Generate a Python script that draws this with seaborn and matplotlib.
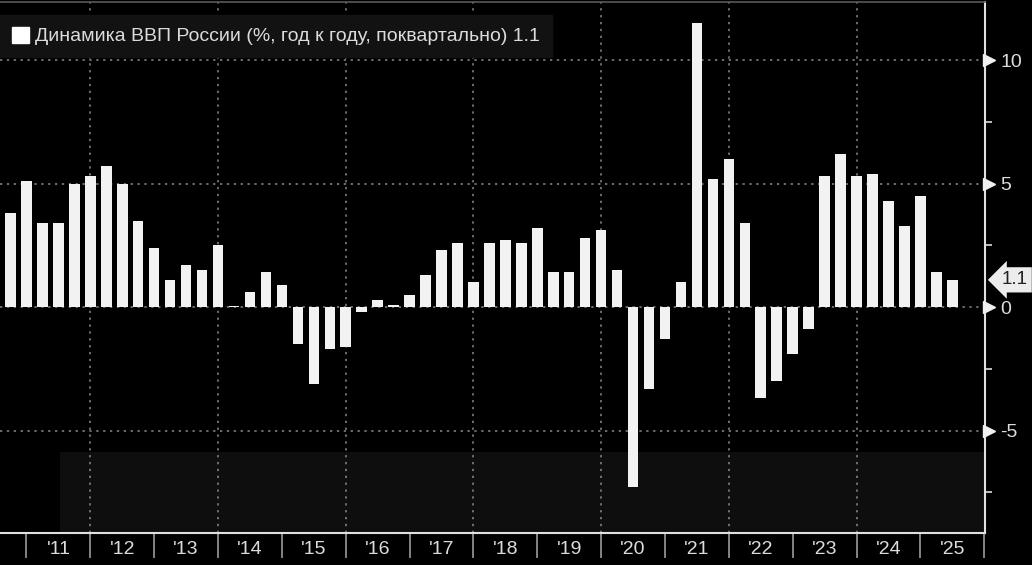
import matplotlib
matplotlib.use("Agg")
import matplotlib.pyplot as plt
import matplotlib.transforms as mtransforms
from matplotlib.patches import Patch
import seaborn as sns
import pandas as pd

# ---- data ----
quarters = [f"{y}Q{q}" for y in range(2010, 2026) for q in range(1, 5)][2:62]
gdp_yoy = [3.8, 5.1,
           3.4, 3.4, 5.0, 5.3,
           5.7, 5.0, 3.5, 2.4,
           1.1, 1.7, 1.5, 2.5,
           0.05, 0.6, 1.4, 0.9,
           -1.5, -3.1, -1.7, -1.6,
           -0.2, 0.3, 0.1, 0.5,
           1.3, 2.3, 2.6, 1.0,
           2.6, 2.7, 2.6, 3.2,
           1.4, 1.4, 2.8, 3.1,
           1.5, -7.3, -3.3, -1.3,
           1.0, 11.5, 5.2, 6.0,
           3.4, -3.7, -3.0, -1.9,
           -0.9, 5.3, 6.2, 5.3,
           5.4, 4.3, 3.3, 4.5,
           1.4, 1.1]
year_labels = ["'11", "'12", "'13", "'14", "'15", "'16", "'17", "'18",
               "'19", "'20", "'21", "'22", "'23", "'24", "'25"]
y_ticks = [-5, 0, 5, 10]
legend_label = "Динамика ВВП России (%, год к году, поквартально) 1.1"

df = pd.DataFrame({"quarter": quarters, "gdp": gdp_yoy})

sns.set_style("dark")
plt.rcParams["font.family"] = ["Liberation Sans", "DejaVu Sans"]

W, H = 1032, 565
fig = plt.figure(figsize=(W / 100, H / 100), dpi=100, facecolor="black")
ax = fig.add_axes([0, (H - 533) / H, 985 / W, (533 - 2) / H])
ax.set_facecolor("black")

sns.barplot(data=df, x="quarter", y="gdp", order=quarters, color="#f2f2f2",
            saturation=1, width=0.66, linewidth=0, ax=ax, zorder=3)

ax.set_xlim(-0.66, 61.05)
ax.set_ylim(-9.15, 12.35)
ax.set_xlabel("")
ax.set_ylabel("")

# faint lower band (as in reference)
ax.axhspan(-9.15, -5.87, xmin=60 / 985, xmax=1, color="#0e0e0e", zorder=0, lw=0)

# grid lines
for v in y_ticks:
    ax.axhline(v, color="#8a8a8a", lw=1.1, ls=(0, (1.5, 3)), zorder=1)
for yr in range(2012, 2025, 2):
    ax.axvline(1 + 4 * (yr - 2011), color="#8a8a8a", lw=1.1, ls=(0, (1.5, 3)), zorder=1)

# spines
ax.spines["left"].set_visible(False)
ax.spines["top"].set_color("#5a5a5a")
ax.spines["top"].set_linewidth(1.2)
ax.spines["bottom"].set_color("#e0e0e0")
ax.spines["bottom"].set_linewidth(1.5)
ax.spines["right"].set_color("#e0e0e0")
ax.spines["right"].set_linewidth(1.5)
ax.grid(False)

# x axis: year separators + labels
bounds = [1 + 4 * k for k in range(16)]
mids = [3 + 4 * k for k in range(15)]
ax.set_xticks(bounds)
ax.set_xticklabels([])
ax.set_xticks(mids, minor=True)
ax.set_xticklabels(year_labels, minor=True)
ax.tick_params(axis="x", which="major", length=18, width=1.2, color="#9a9a9a",
               direction="out", bottom=True)
ax.tick_params(axis="x", which="minor", length=0, labelsize=14,
               labelcolor="#dcdcdc", pad=6, bottom=True)

# y axis on right
ax.yaxis.tick_right()
ax.set_yticks(y_ticks)
ax.set_yticklabels([str(v) for v in y_ticks])
ax.set_yticks([-7.5, -2.5, 2.5, 7.5], minor=True)
ax.tick_params(axis="y", which="major", length=0, labelsize=14,
               labelcolor="#dcdcdc", pad=11, right=True, left=False)
ax.tick_params(axis="y", which="minor", length=5, width=1.2, color="#dcdcdc",
               direction="out", right=True, left=False)

trans = mtransforms.blended_transform_factory(ax.transAxes, ax.transData)
marker_trans = trans + mtransforms.ScaledTranslation(4 / 100, 0, fig.dpi_scale_trans)
ax.plot([1.0] * len(y_ticks), y_ticks, ls="none", marker=">", ms=8,
        color="#f0f0f0", transform=marker_trans, clip_on=False, zorder=5)

# last value tag
ax.annotate("1.1", xy=(1.0, gdp_yoy[-1]), xycoords=trans,
            xytext=(12, 0), textcoords="offset points", ha="left", va="center",
            fontsize=13.5, color="#222222", annotation_clip=False,
            bbox=dict(boxstyle="larrow,pad=0.22", fc="#ececec", ec="none"))

# legend
leg = ax.legend(handles=[Patch(facecolor="white", edgecolor="white")],
                labels=[legend_label], loc="upper left",
                bbox_to_anchor=(0.0, 1 - 13 / 531), borderaxespad=0,
                handlelength=0.9, handleheight=0.9, handletextpad=0.3,
                frameon=True, fancybox=False, facecolor="#121212",
                edgecolor="#121212", framealpha=1, fontsize=14,
                borderpad=0.6)
for t in leg.get_texts():
    t.set_color("#dcdcdc")

fig.savefig("out.png", dpi=100, facecolor="black")
